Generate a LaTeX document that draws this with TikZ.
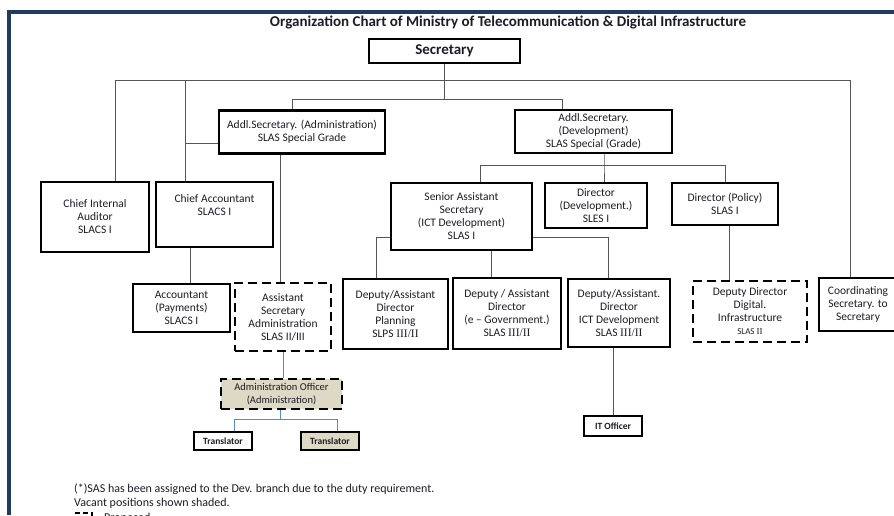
\documentclass[tikz,border=0pt]{standalone}
\usepackage{fontspec}
\setmainfont{Carlito}
\newfontfamily\romnum{Liberation Serif}

\definecolor{frameblue}{HTML}{1F3B5E}
\definecolor{vacant}{HTML}{DDD9C4}
\definecolor{linkgray}{HTML}{555555}
\definecolor{linkblue}{HTML}{5B8ACB}
\definecolor{ink}{HTML}{1C1C28}

\tikzset{
  post/.style={draw, line width=2.6pt, align=center, inner sep=1pt, text=ink,
    font=\fontsize{11.5}{13}\selectfont},
  proposed/.style={post, dash pattern=on 9pt off 5pt},
  shaded/.style={fill=vacant},
  tiny/.style={font=\fontsize{9.5}{11}\selectfont\bfseries},
  note/.style={anchor=west, text=ink, font=\fontsize{12}{14}\selectfont, inner sep=0pt},
  link/.style={draw=linkgray, line width=0.9pt},
  blink/.style={draw=linkblue, line width=0.9pt},
}

\begin{document}
\begin{tikzpicture}[x=1pt, y=-1pt]
  \useasboundingbox (0,0) rectangle (894,515);
  \fill[frameblue] (7,10) rectangle (894,14);
  \fill[frameblue] (7,10) rectangle (11,515);

  \node[text=ink, font=\fontsize{15}{17}\selectfont\bfseries] (title) at (508,22)
    {Organization Chart of Ministry of Telecommunication \& Digital Infrastructure};

  % top level
  \node[post, minimum width=151, minimum height=24, font=\fontsize{15}{17}\selectfont\bfseries] (sec) at (444.5,51) {Secretary};
  \node[post, minimum width=166, minimum height=43] (adm) at (302,132) {Addl.Secretary. (Administration)\\SLAS Special Grade};
  \node[post, minimum width=157, minimum height=43] (ad) at (593.5,131.5) {Addl.Secretary.\\(Development)\\SLAS Special (Grade)};

  % second level
  \node[post, minimum width=108, minimum height=70] (cia) at (95,217) {Chief Internal\\Auditor\\SLACS I};
  \node[post, minimum width=117, minimum height=65] (ca) at (214.5,214.5) {Chief Accountant\\SLACS I\\[6pt]};
  \node[post, minimum width=141, minimum height=67] (sas) at (461.5,216.5) {Senior Assistant\\Secretary\\(ICT Development)\\SLAS I};
  \node[post, minimum width=102, minimum height=45] (ddev) at (596,205.5) {Director\\(Development.)\\SLES I};
  \node[post, minimum width=106, minimum height=42] (dpol) at (725,204) {Director (Policy)\\SLAS I};

  % third level
  \node[post, minimum width=97, minimum height=48] (acc) at (181.5,308) {Accountant\\(Payments)\\SLACS I};
  \node[proposed, minimum width=96, minimum height=68] (asa) at (283,317) {Assistant\\Secretary\\Administration\\SLAS II/III};
  \node[post, minimum width=105, minimum height=70] (dplan) at (395.5,314) {Deputy/Assistant\\Director\\Planning\\SLPS {\romnum III/II}};
  \node[post, minimum width=108, minimum height=71] (degov) at (507,313.5) {Deputy / Assistant\\Director\\(e -- Government.)\\SLAS {\romnum III/II}};
  \node[post, minimum width=102, minimum height=68] (dict) at (619,313) {Deputy/Assistant.\\Director\\ICT Development\\SLAS {\romnum III/II}};
  \node[proposed, minimum width=114, minimum height=61] (ddig) at (750,311.5) {Deputy Director\\Digital.\\Infrastructure\\{\fontsize{9}{11}\selectfont SLAS \romnum II}};
  \node[post, minimum width=78, minimum height=53] (coord) at (858,304.5) {Coordinating\\Secretary. to\\Secretary};

  % lower posts
  \node[proposed, shaded, minimum width=121, minimum height=30, font=\fontsize{10.5}{12.5}\selectfont] (aoff) at (281.5,394) {Administration Officer\\(Administration)};
  \node[post, tiny, minimum width=58, minimum height=18] (tr1) at (223,441) {Translator};
  \node[post, tiny, shaded, minimum width=58, minimum height=18] (tr2) at (330,441) {Translator};
  \node[post, tiny, minimum width=58, minimum height=20] (itoff) at (613,426) {IT Officer};

  % buses under the secretary
  \coordinate (busL) at (115,80);
  \coordinate (busA) at (185,80);
  \coordinate (busR) at (850,80);
  \coordinate (busM) at (445,99);
  \coordinate (stubA) at (185,143);
  \coordinate (addL) at (292,99);
  \coordinate (addR) at (562,99);
  \draw[link] (sec.south) -- (sec.south |- busM);
  \draw[link] (busL) -- (busR);
  \draw[link] (busL) -- (busL |- cia.north);
  \draw[link] (busA) -- (busA |- ca.north);
  \draw[link] (stubA) -- (stubA -| adm.west);
  \draw[link] (busR) -- (busR |- coord.north);
  \draw[link] (addL |- adm.north) -- (addL) -- (addR) -- (addR |- ad.north);

  % development branch
  \coordinate (devM) at (604,165);
  \coordinate (devL) at (480,165);
  \coordinate (devR) at (725,165);
  \draw[link] (devM |- ad.south) -- (devM) -- (devM |- ddev.north);
  \draw[link] (devL |- sas.north) -- (devL) -- (devR) -- (devR |- dpol.north);

  \coordinate (sasL) at (376,237);
  \coordinate (sasR) at (608,237);
  \coordinate (sasM) at (491,0);
  \coordinate (polM) at (729,0);
  \draw[link] (sasL -| sas.west) -- (sasL) -- (sasL |- dplan.north);
  \draw[link] (sasR -| sas.east) -- (sasR) -- (sasR |- dict.north);
  \draw[link] (sasM |- sas.south) -- (sasM |- degov.north);
  \draw[link] (polM |- dpol.south) -- (polM |- ddig.north);
  \draw[link] (itoff.north) -- (itoff.north |- dict.south);

  % administration branch
  \coordinate (caM) at (190,0);
  \coordinate (admM) at (280,0);
  \draw[link] (caM |- ca.south) -- (caM |- acc.north);
  \draw[link] (admM |- adm.south) -- (admM |- asa.north);
  \draw[blink] (asa.south) -- (asa.south |- aoff.north);
  \coordinate (aoM) at (280,419);
  \coordinate (aoL) at (234,419);
  \coordinate (aoR) at (337,419);
  \draw[blink] (aoM |- aoff.south) -- (aoM);
  \draw[blink] (aoL |- tr1.north) -- (aoL) -- (aoR) -- (aoR |- tr2.north);

  % notes
  \node[note] (note1) at (74,489) {(*)SAS has been assigned to the Dev. branch due to the duty requirement.};
  \node[note] (note2) at (74,503) {Vacant positions shown shaded.};
  \node[proposed, line width=2pt, dash pattern=on 5pt off 3pt, minimum width=16, minimum height=12] (legbox) at (84,519) {};
  \node[note] (legtxt) at (104,518) {Proposed};
\end{tikzpicture}
\end{document}
